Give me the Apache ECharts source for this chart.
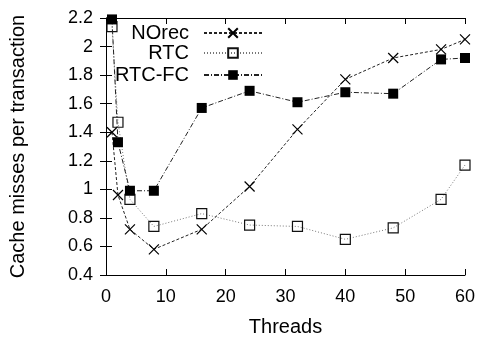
<!DOCTYPE html>
<html>
<head>
<meta charset="utf-8">
<script src="https://cdn.jsdelivr.net/npm/echarts@6/dist/echarts.min.js"></script>
<style>
  html, body { margin: 0; padding: 0; background: #fff; }
  #chart { width: 480px; height: 337px; }
</style>
</head>
<body>
<div id="chart"></div>
<script>
// Thread counts on the x axis
const threads = [1, 2, 4, 8, 16, 24, 32, 40, 48, 56, 60];
// Cache misses per transaction for each implementation
const norec = [1.40, 0.96, 0.72, 0.58, 0.72, 1.02, 1.42, 1.77, 1.92, 1.98, 2.05];
const rtc   = [2.14, 1.47, 0.93, 0.74, 0.83, 0.75, 0.74, 0.65, 0.73, 0.93, 1.17];
const rtcFc = [2.19, 1.33, 0.99, 0.99, 1.57, 1.69, 1.61, 1.68, 1.67, 1.91, 1.92];
const seriesNames = ['NOrec', 'RTC', 'RTC-FC'];

const FONT = 'Liberation Sans';
const pairs = ys => threads.map((t, i) => [t, ys[i]]);

const chart = echarts.init(document.getElementById('chart'), null, { renderer: 'canvas' });

const axisLine = { show: true, lineStyle: { color: '#000', width: 1 } };
const tickIn = { show: true, inside: true, length: 6, lineStyle: { color: '#000' } };

// one legend block per series so the keys line up on the right and the names right-align
const legendAt = (name, top) => ({
  data: [name],
  orient: 'vertical',
  right: 217,
  top: top,
  align: 'right',
  itemWidth: 58,
  itemHeight: 12,
  itemGap: 0,
  padding: 0,
  textStyle: { fontFamily: FONT, fontSize: 20, color: '#000', padding: [0, 10, 0, 0] }
});

chart.setOption({
  animation: false,
  grid: { left: 106, right: 15, top: 18, bottom: 62, containLabel: false, outerBoundsMode: 'none' },
  legend: [legendAt('NOrec', 23), legendAt('RTC', 43), legendAt('RTC-FC', 65)],
  xAxis: [{
    type: 'value', min: 0, max: 60, interval: 10,
    name: 'Threads', nameLocation: 'middle', nameGap: 42,
    nameTextStyle: { fontFamily: FONT, fontSize: 20, color: '#000' },
    axisLine: axisLine, axisTick: tickIn, splitLine: { show: false },
    axisLabel: { fontFamily: FONT, fontSize: 18, color: '#000', margin: 13 }
  }, {
    type: 'value', min: 0, max: 60, interval: 10, position: 'top',
    axisLine: axisLine, axisTick: tickIn, splitLine: { show: false },
    axisLabel: { show: false }
  }],
  yAxis: [{
    type: 'value', min: 0.4, max: 2.2, interval: 0.2,
    name: 'Cache misses per transaction', nameLocation: 'middle', nameGap: 78,
    nameTextStyle: { fontFamily: FONT, fontSize: 20, color: '#000' },
    axisLine: axisLine, axisTick: tickIn, splitLine: { show: false },
    axisLabel: { fontFamily: FONT, fontSize: 18, color: '#000', margin: 13,
      formatter: v => String(Math.round(v * 10) / 10) }
  }, {
    type: 'value', min: 0.4, max: 2.2, interval: 0.2, position: 'right',
    axisLine: axisLine, axisTick: tickIn, splitLine: { show: false },
    axisLabel: { show: false }
  }],
  series: [{
    name: seriesNames[0], type: 'line', data: pairs(norec),
    symbol: 'path://M0,0L10,10M10,0L0,10', symbolSize: 10, showAllSymbol: true,
    lineStyle: { color: '#222', width: 1, type: [3, 2] },
    itemStyle: { color: 'rgba(0,0,0,0)', borderColor: '#000', borderWidth: 1.2 },
    z: 3
  }, {
    name: seriesNames[1], type: 'line', data: pairs(rtc),
    symbol: 'rect', symbolSize: 10, showAllSymbol: true,
    lineStyle: { color: '#777', width: 1, type: [1, 2] },
    itemStyle: { color: 'rgba(0,0,0,0)', borderColor: '#111', borderWidth: 1.2 },
    z: 2
  }, {
    name: seriesNames[2], type: 'line', data: pairs(rtcFc),
    symbol: 'rect', symbolSize: 10, showAllSymbol: true,
    lineStyle: { color: '#222', width: 1, type: [5, 2, 1, 2] },
    itemStyle: { color: '#000', borderColor: '#000', borderWidth: 0 },
    z: 4
  }]
});
</script>
</body>
</html>
